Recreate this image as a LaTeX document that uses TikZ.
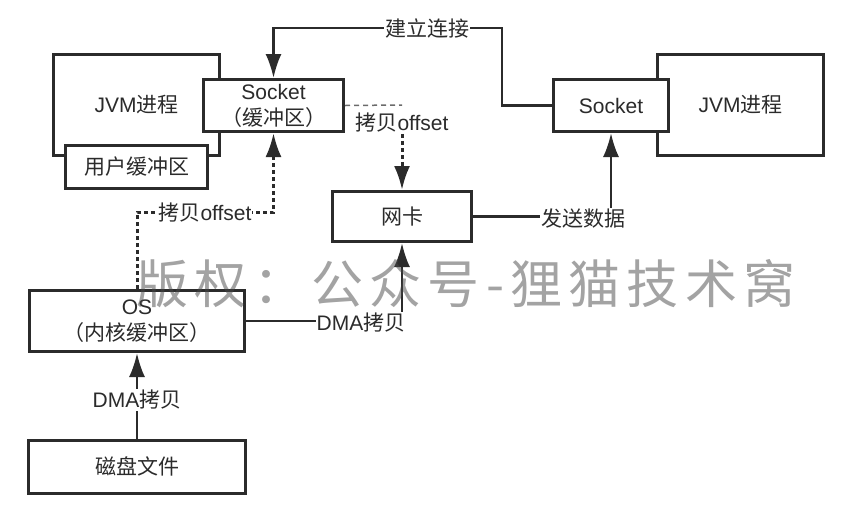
\documentclass[tikz,border=0pt]{standalone}
\usepackage{fontspec}
\usetikzlibrary{arrows.meta}
\setmainfont{Liberation Sans}
\newfontfamily\cjk{Noto Sans CJK SC}
\newcommand{\zh}[1]{{\cjk #1}}
\definecolor{ink}{HTML}{2B2B2B}
\definecolor{mark}{HTML}{474747}
\begin{document}
\begin{tikzpicture}[x=1pt, y=-1pt]
   \tikzset{>={Latex[length=24pt,width=16pt]}}
   \tikzset{box/.style={draw=ink, line width=3pt, fill=white, inner sep=0pt, align=center,
                        font=\fontsize{21}{26}\selectfont, text=ink},
            lbl/.style={fill=white, inner sep=1pt, font=\fontsize{21}{24}\selectfont, text=ink},
            wire/.style={draw=ink, line width=2.5pt},
            dotline/.style={draw=ink, line width=3pt, dash pattern=on 4pt off 3pt},
            faint/.style={draw=ink!70, line width=1.5pt, dash pattern=on 5pt off 4pt}}
   \useasboundingbox (0,0) rectangle (853,512);

   % boxes
   \node[box, minimum width=166, minimum height=101] (jvm1) at (136.5,105) {JVM\zh{进程}};
   \node[box, minimum width=140, minimum height=52] (sock1) at (273.5,105.5) {Socket\\\zh{（缓冲区）}};
   \node[box, minimum width=142, minimum height=43] (buf) at (136.5,166.5) {\zh{用户缓冲区}};
   \node[box, minimum width=166, minimum height=101] (jvm2) at (740.5,105) {JVM\zh{进程}};
   \node[box, minimum width=115, minimum height=52] (sock2) at (611,105.5) {Socket};
   \node[box, minimum width=139, minimum height=50] (nic) at (402,216.5) {\zh{网卡}};
   \node[box, minimum width=215, minimum height=61] (os) at (137,321) {OS\\\zh{（内核缓冲区）}};
   \node[box, minimum width=217, minimum height=53] (disk) at (137,466.5) {\zh{磁盘文件}};

   % connectors
   \coordinate (c1) at (402,105);
   \coordinate (c2) at (273.5,212);
   \coordinate (c3) at (502,28);
   \draw[wire,->] (sock2.west) -| (c3) -| (sock1.north);
   \draw[faint] (sock1.east) -- (c1);
   \draw[dotline,->] (os.north) |- (c2) -- (sock1.south);
   \draw[wire,->] (nic.east) -| (sock2.south);
   \draw[wire,->] (os.east) -| (nic.south);
   \draw[wire,->] (disk.north) -- (os.south);

   % labels
   \node[lbl] (l1) at (427,28) {\zh{建立连接}};
   \node[lbl] (l2) at (402,123) {\zh{拷贝}offset};
   \node[lbl] (l3) at (205,213) {\zh{拷贝}offset};
   \node[lbl] (l4) at (583,219) {\zh{发送数据}};
   \node[lbl] (l5) at (361,323) {DMA\zh{拷贝}};
   \node[lbl] (l6) at (137,400) {DMA\zh{拷贝}};
   \draw[dotline,->] (l2.south) -- (nic.north);

   % watermark on top
   \node[text=mark, text opacity=0.5, font=\cjk\fontsize{52}{60}\selectfont\addfontfeature{LetterSpace=12}] (wm) at (466,284) {版权：公众号-狸猫技术窝};
\end{tikzpicture}
\end{document}
